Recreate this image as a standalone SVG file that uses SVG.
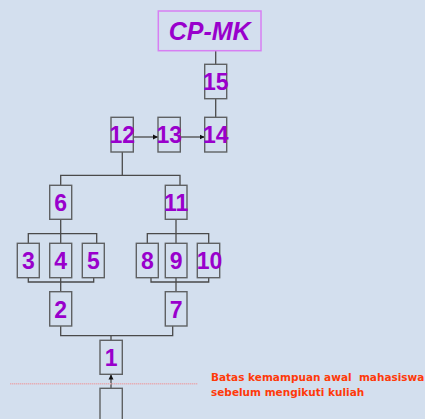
<svg xmlns="http://www.w3.org/2000/svg" width="425" height="419" viewBox="0 0 425 419">
<defs>
<style>
.bg{fill:#D3DFEE}
.box{fill:#D3DFEE;stroke:#5F6163;stroke-width:1.4}
.num{font-family:"Liberation Sans",Arial,sans-serif;font-weight:bold;font-size:23px;fill:#9900CC;text-anchor:middle}
.ln{fill:none;stroke:#4A4A4A;stroke-width:1.3}
.note{font-family:"DejaVu Sans",sans-serif;font-weight:bold;font-size:10.5px;fill:#FF3A0A;white-space:pre}
</style>
<marker id="ah" markerWidth="6" markerHeight="6" refX="5" refY="3" orient="auto" markerUnits="userSpaceOnUse">
<path d="M0,0.5 L5,3 L0,5.5 Z" fill="#111"/>
</marker>
</defs>
<rect class="bg" x="0" y="0" width="425" height="419"/>
<g id="connectors">
<line class="ln" x1="215.7" y1="50.7" x2="215.7" y2="64.3"/>
<line class="ln" x1="215.7" y1="98.7" x2="215.7" y2="117.3"/>
<line class="ln" x1="133.3" y1="137" x2="158" y2="137" marker-end="url(#ah)"/>
<line class="ln" x1="180.3" y1="137" x2="204.7" y2="137" marker-end="url(#ah)"/>
<polyline class="ln" points="122.3,152 122.3,175.3"/>
<polyline class="ln" points="60.7,185.3 60.7,175.3 180,175.3 180,185.3"/>
<line class="ln" x1="60.7" y1="219.3" x2="60.7" y2="243.3"/>
<polyline class="ln" points="28.3,243.3 28.3,233.7 96.7,233.7 96.7,243.3"/>
<polyline class="ln" points="28.3,277.7 28.3,282 93.7,282 93.7,277.7"/>
<line class="ln" x1="60.7" y1="277.7" x2="60.7" y2="291.7"/>
<line class="ln" x1="176" y1="219.3" x2="176" y2="243.3"/>
<polyline class="ln" points="147.3,243.3 147.3,233.7 208.7,233.7 208.7,243.3"/>
<polyline class="ln" points="151,277.7 151,282 208.7,282 208.7,277.7"/>
<line class="ln" x1="176" y1="277.7" x2="176" y2="291.7"/>
<polyline class="ln" points="60.7,326 60.7,335.7 172.7,335.7 172.7,326"/>
<line class="ln" x1="111" y1="335.7" x2="111" y2="340.3"/>
<line class="ln" x1="111" y1="388.3" x2="111" y2="374.6" marker-end="url(#ah)"/>
<line x1="10" y1="383.7" x2="197.3" y2="383.7" stroke="#E6AEB5" stroke-width="1.6" stroke-dasharray="1.4,0.6"/>
</g>
<g id="cpmk">
<rect x="158.3" y="11" width="102.7" height="39.7" fill="#D3DFEE" stroke="#D77FF2" stroke-width="1.5"/>
<text x="209.7" y="39.5" font-family="Liberation Sans,Arial,sans-serif" font-weight="bold" font-style="italic" font-size="25" fill="#9900CC" text-anchor="middle">CP-MK</text>
</g>
<g id="n15"><rect class="box" x="204.7" y="64.3" width="22" height="34.4"/><text class="num" x="215.7" y="89.5">15</text></g>
<g id="n12"><rect class="box" x="111" y="117.3" width="22.3" height="34.7"/><text class="num" x="122.2" y="143">12</text></g>
<g id="n13"><rect class="box" x="158" y="117.3" width="22.3" height="34.7"/><text class="num" x="169.2" y="143">13</text></g>
<g id="n14"><rect class="box" x="204.7" y="117.3" width="22" height="34.7"/><text class="num" x="215.7" y="143">14</text></g>
<g id="n6"><rect class="box" x="49.7" y="185.3" width="22" height="34"/><text class="num" x="60.7" y="211">6</text></g>
<g id="n11"><rect class="box" x="165.3" y="185.3" width="21.7" height="34"/><text class="num" x="176.2" y="211">11</text></g>
<g id="n3"><rect class="box" x="17.3" y="243.3" width="22" height="34.4"/><text class="num" x="28.3" y="269">3</text></g>
<g id="n4"><rect class="box" x="49.7" y="243.3" width="22" height="34.4"/><text class="num" x="60.7" y="269">4</text></g>
<g id="n5"><rect class="box" x="82.3" y="243.3" width="22" height="34.4"/><text class="num" x="93.3" y="269">5</text></g>
<g id="n8"><rect class="box" x="136.3" y="243.3" width="22" height="34.4"/><text class="num" x="147.3" y="269">8</text></g>
<g id="n9"><rect class="box" x="165.3" y="243.3" width="21.7" height="34.4"/><text class="num" x="176.2" y="269">9</text></g>
<g id="n10"><rect class="box" x="197.3" y="243.3" width="22.4" height="34.4"/><text class="num" x="209.5" y="269">10</text></g>
<g id="n2"><rect class="box" x="49.7" y="291.7" width="22" height="34.3"/><text class="num" x="60.7" y="317.5">2</text></g>
<g id="n7"><rect class="box" x="165.3" y="291.7" width="21.7" height="34.3"/><text class="num" x="176.2" y="317.5">7</text></g>
<g id="n1"><rect class="box" x="100" y="340.3" width="22.3" height="34"/><text class="num" x="111.2" y="366">1</text></g>
<g id="n0"><rect class="box" x="100" y="388.3" width="22.3" height="40"/></g>
<g id="note">
<text class="note" x="211" y="380.7" xml:space="preserve">Batas kemampuan awal  mahasiswa</text>
<text class="note" x="211" y="395.7">sebelum mengikuti kuliah</text>
</g>
</svg>
